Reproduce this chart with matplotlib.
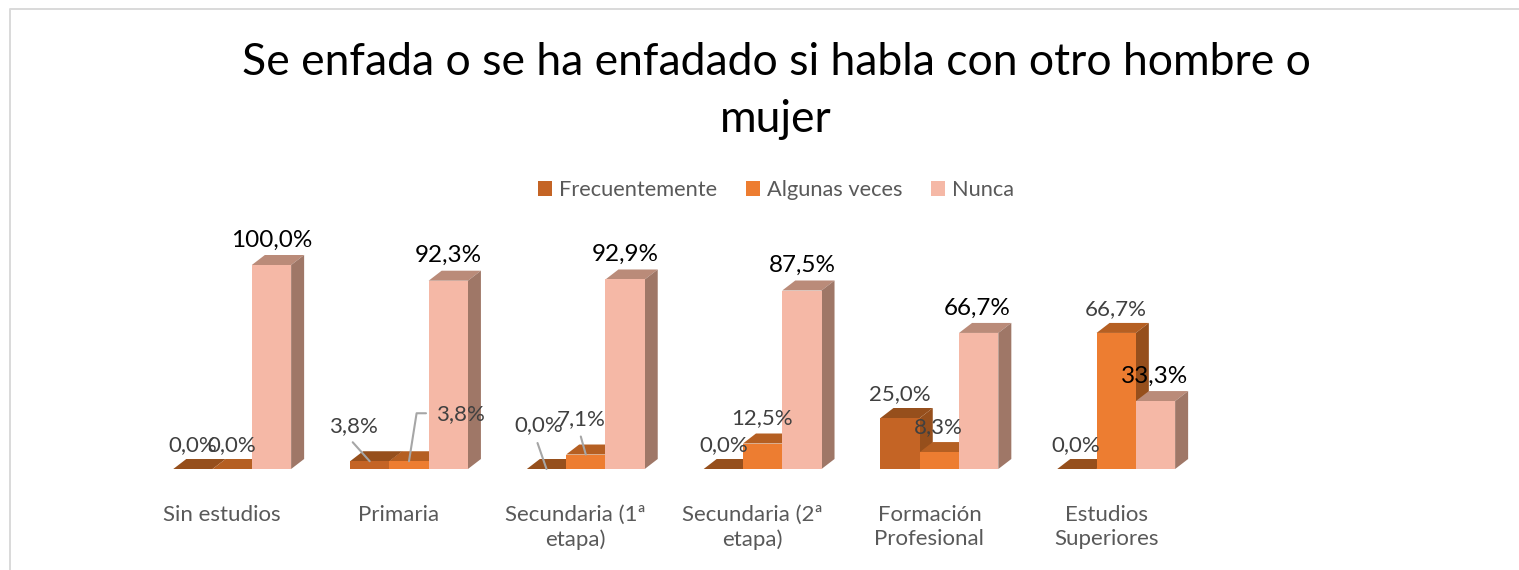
import numpy as np
import matplotlib
matplotlib.use("Agg")
import matplotlib.pyplot as plt
from matplotlib.patches import Polygon, Patch

plt.rcParams['font.family'] = ['Lato', 'DejaVu Sans']

categorias = ['Sin estudios', 'Primaria', 'Secundaria (1ª\netapa)', 'Secundaria (2ª\netapa)',
              'Formación\nProfesional', 'Estudios\nSuperiores']
series = ['Frecuentemente', 'Algunas veces', 'Nunca']
frecuentemente = [0.0, 3.8, 0.0, 0.0, 25.0, 0.0]
algunas_veces = [0.0, 3.8, 7.1, 12.5, 8.3, 66.7]
nunca = [100.0, 92.3, 92.9, 87.5, 66.7, 33.3]
valores = [frecuentemente, algunas_veces, nunca]

# colores: frente, techo, lateral
c_frente = ['#C46425', '#ED7D31', '#F5B8A6']
c_techo = ['#964F1C', '#B55F22', '#BA8B79']
c_lado = ['#964F1C', '#964F1C', '#9F7767']
c_etiq = ['#404040', '#404040', '#000000']
tam_etiq = [16, 16, 17.5]

# desplazamiento de cada etiqueta en pixeles
despl = [
    [(0, 24), (-16, 35), (-8, 44), (0, 24), (0, 24), (-1, 24)],
    [(0, 24), (51, 47), (-5, 35), (-1, 25), (-1, 25), (0, 24)],
    [(0, 25), (0, 25), (0, 25), (0, 25), (-1, 25), (-1, 25)],
]

fig = plt.figure(figsize=(15.19, 5.70), dpi=100)
fig.patch.set_facecolor('white')

# marco del grafico (sin borde derecho ni inferior)
fig.add_artist(plt.Line2D([10/1519, 10/1519, 1], [0, 561/570, 561/570],
                          color='#D9D9D9', lw=1.4))

ax = fig.add_axes([143.8/1519, (570-469)/570, 1060.8/1519, 245/570])
ax.set_xlim(-0.5, 5.5)
ax.set_ylim(0, 245/2.04)
ax.patch.set_visible(False)
for s in ax.spines.values():
    s.set_visible(False)

ancho = 0.2222
prof_x = 13/176.8
prof_y = 10/2.04
x = np.arange(len(categorias))

for j, vals in enumerate(valores):
    for i, v in enumerate(vals):
        x0 = x[i] + (j-1.5)*ancho
        x1 = x0 + ancho
        ax.add_patch(Polygon([(x0, v), (x1, v), (x1+prof_x, v+prof_y), (x0+prof_x, v+prof_y)],
                             fc=c_techo[j], ec='none', zorder=2+j))
        ax.add_patch(Polygon([(x1, 0), (x1+prof_x, prof_y), (x1+prof_x, v+prof_y), (x1, v)],
                             fc=c_lado[j], ec='none', zorder=2+j))
        ax.add_patch(Polygon([(x0, 0), (x1, 0), (x1, v), (x0, v)],
                             fc=c_frente[j], ec='none', zorder=2+j))

for j, vals in enumerate(valores):
    for i, v in enumerate(vals):
        xc = x[i] + (j-1)*ancho
        ax.annotate(f'{v:.1f}%'.replace('.', ','), xy=(xc, v), xytext=despl[j][i],
                    textcoords='offset pixels', ha='center', va='center',
                    color=c_etiq[j], fontsize=tam_etiq[j], zorder=10, annotation_clip=False)

# lineas guia
guia = dict(arrowstyle='-', color='#A6A6A6', lw=1.5, shrinkA=0, shrinkB=0)
ax.annotate('', xy=(x[1]-ancho, 3.8), xytext=(-17, 19), textcoords='offset pixels', arrowprops=guia, zorder=9)
ax.annotate('', xy=(x[1], 3.8), xytext=(17, 48), textcoords='offset pixels',
            arrowprops=dict(guia, connectionstyle='angle,angleA=0,angleB=81,rad=0'), zorder=9)
ax.annotate('', xy=(x[2]-ancho, 0), xytext=(-9, 26), textcoords='offset pixels', arrowprops=guia, zorder=9)
ax.annotate('', xy=(x[2], 7.1), xytext=(-5, 18), textcoords='offset pixels', arrowprops=guia, zorder=9)

ax.set_yticks([])
ax.set_xticks(x - 10/176.8)
ax.set_xticklabels(categorias, fontsize=16, color='#595959', linespacing=1.26)
ax.tick_params(axis='x', length=0, pad=26)
for t in ax.get_xticklabels():
    t.set_verticalalignment('top')

fig.text(776/1519, 1-91/570, 'Se enfada o se ha enfadado si habla con otro hombre o\nmujer',
         ha='center', va='center', fontsize=32, color='black', linespacing=1.5)

handles = [Patch(fc=c, ec='none') for c in c_frente]
fig.legend(handles, series, loc='center', bbox_to_anchor=(776/1519, 1-190/570), ncol=3,
           frameon=False, fontsize=15.7, labelcolor='#595959', handlelength=0.64, handleheight=0.64,
           handletextpad=0.3, columnspacing=1.35)

fig.savefig('out.png', dpi=100)
